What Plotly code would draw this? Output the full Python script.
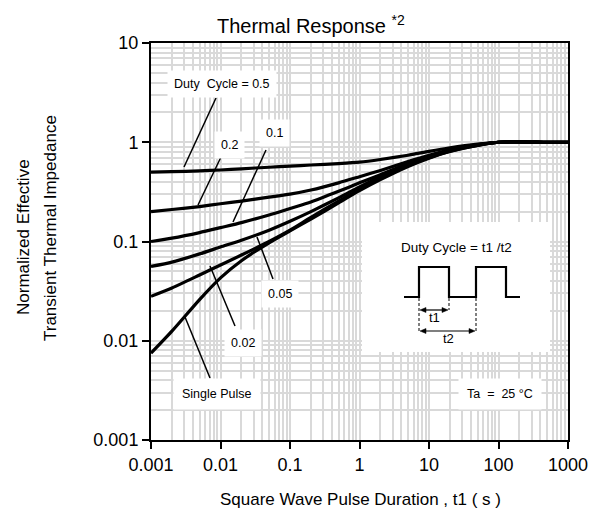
import plotly.graph_objects as go

# ---------------- data ----------------
t1 = [0.001, 0.002, 0.005, 0.01, 0.02, 0.05, 0.1, 0.2, 0.5, 1, 2, 5, 10, 20, 50, 100, 200, 500, 1000]
duty_05 = [0.50, 0.505, 0.515, 0.525, 0.54, 0.56, 0.575, 0.59, 0.61, 0.63, 0.67, 0.74, 0.81, 0.88, 0.96, 1.0, 1.01, 1.0, 1.0]
duty_02 = [0.20, 0.21, 0.225, 0.24, 0.255, 0.28, 0.30, 0.33, 0.39, 0.45, 0.52, 0.64, 0.74, 0.84, 0.95, 1.0, 1.01, 1.0, 1.0]
duty_01 = [0.10, 0.108, 0.123, 0.138, 0.155, 0.185, 0.215, 0.25, 0.32, 0.39, 0.47, 0.61, 0.72, 0.83, 0.94, 1.0, 1.01, 1.0, 1.0]
duty_005 = [0.056, 0.062, 0.075, 0.088, 0.103, 0.13, 0.16, 0.20, 0.275, 0.355, 0.45, 0.59, 0.71, 0.82, 0.94, 1.0, 1.01, 1.0, 1.0]
duty_002 = [0.028, 0.034, 0.046, 0.058, 0.073, 0.10, 0.13, 0.175, 0.255, 0.335, 0.43, 0.58, 0.70, 0.81, 0.93, 1.0, 1.01, 1.0, 1.0]
single = [0.0075, 0.0125, 0.026, 0.043, 0.064, 0.097, 0.128, 0.168, 0.245, 0.325, 0.42, 0.57, 0.69, 0.81, 0.93, 1.0, 1.01, 1.0, 1.0]

series = [("0.5", duty_05), ("0.2", duty_02), ("0.1", duty_01),
          ("0.05", duty_005), ("0.02", duty_002), ("Single Pulse", single)]

x_tickvals = [0.001, 0.01, 0.1, 1, 10, 100, 1000]
x_ticktext = ["0.001", "0.01", "0.1", "1", "10", "100", "1000"]
y_tickvals = [0.001, 0.01, 0.1, 1, 10]
y_ticktext = ["0.001", "0.01", "0.1", "1", "10"]

# ---------------- layout helpers (pixel -> paper) ----------------
W, H = 609, 513
L, R, T, B = 151, 568, 43, 440
def px(x):
    return (x - L) / (R - L)
def py(y):
    return (B - y) / (B - T)

FONT = "Liberation Sans, Arial, sans-serif"

fig = go.Figure()
for name, vals in series:
    fig.add_trace(go.Scatter(x=t1, y=vals, mode="lines", name=name,
                             line=dict(color="black", width=3.2, shape="spline", smoothing=0.6),
                             showlegend=False, hoverinfo="skip"))

shapes = []
annotations = []

def pline(x0, y0, x1, y1, width=1.5, dash=None, layer="above"):
    ln = dict(color="black", width=width)
    if dash:
        ln["dash"] = dash
    shapes.append(dict(type="line", xref="paper", yref="paper",
                       x0=px(x0), y0=py(y0), x1=px(x1), y1=py(y1), line=ln, layer=layer))

# leader lines
leaders = [((216, 98), (184, 167)),
           ((221, 157), (198, 205)),
           ((266, 150), (233, 222)),
           ((273, 279), (257, 237)),
           ((235, 326), (210, 266)),
           ((210, 378), (185, 317))]
for (x0, y0), (x1, y1) in leaders:
    pline(x0, y0, x1, y1)

# inset white box
shapes.append(dict(type="rect", xref="paper", yref="paper",
                   x0=px(362), x1=px(550), y0=py(352), y1=py(222),
                   fillcolor="white", line=dict(width=0), layer="above"))

# waveform
wave = [(404, 297), (419, 297), (419, 267), (449, 267), (449, 297), (476, 297),
        (476, 267), (506, 267), (506, 297), (520, 297)]
path = "M " + " L ".join(f"{px(a)},{py(b)}" for a, b in wave)
shapes.append(dict(type="path", xref="paper", yref="paper", path=path,
                   line=dict(color="black", width=2.2), layer="above"))
# dashed verticals
for xv, yb in [(419, 331), (449, 310), (476, 331)]:
    pline(xv, 298, xv, yb, width=1, dash="3px,2px")

# double-headed arrows t1 / t2
def tri(tipx, tipy, direction):
    bx = tipx - 6 * direction
    pts = [(tipx, tipy), (bx, tipy - 2.5), (bx, tipy + 2.5)]
    p = "M " + " L ".join(f"{px(a)},{py(b)}" for a, b in pts) + " Z"
    shapes.append(dict(type="path", xref="paper", yref="paper", path=p,
                       fillcolor="black", line=dict(color="black", width=0.5), layer="above"))

for x0, x1, yv in [(420, 448, 310), (420, 475, 331)]:
    pline(x0 + 3, yv, x1 - 3, yv, width=1.2)
    tri(x0, yv, -1)
    tri(x1, yv, 1)

def label(text, x, y, size=12.5, bg="white", pad=6):
    annotations.append(dict(xref="paper", yref="paper", x=px(x), y=py(y),
                            text=text, showarrow=False, xanchor="center", yanchor="middle",
                            font=dict(family=FONT, size=size, color="black"),
                            bgcolor=bg, borderpad=pad))

label("Duty  Cycle = 0.5", 222, 84)
label("0.2", 229, 145)
label("0.1", 274, 133)
label("0.05", 280, 294)
label("0.02", 243, 343)
label("Single Pulse", 217, 394, pad=8)
label("Ta  =  25 °C", 500, 394, pad=8)
label("Duty Cycle = t1 /t2", 456, 248, size=13.5, bg="rgba(0,0,0,0)", pad=0)
label("t1", 434, 318, size=13, bg="rgba(0,0,0,0)", pad=0)
label("t2", 448, 338, size=13, bg="rgba(0,0,0,0)", pad=0)

# title
annotations.append(dict(xref="paper", yref="paper", x=px(311), y=py(24),
                        text="Thermal Response <sup>*2</sup>", showarrow=False,
                        xanchor="center", yanchor="middle",
                        font=dict(family=FONT, size=20, color="black")))
# y title (two lines)
annotations.append(dict(xref="paper", yref="paper", x=px(23), y=py(237),
                        text="Normalized Effective", showarrow=False, textangle=-90,
                        xanchor="center", yanchor="middle",
                        font=dict(family=FONT, size=17, color="black")))
annotations.append(dict(xref="paper", yref="paper", x=px(50), y=py(228),
                        text="Transient Thermal Impedance", showarrow=False, textangle=-90,
                        xanchor="center", yanchor="middle",
                        font=dict(family=FONT, size=17, color="black")))
# x title
annotations.append(dict(xref="paper", yref="paper", x=px(360), y=py(499),
                        text="Square Wave Pulse Duration , t1 ( s )", showarrow=False,
                        xanchor="center", yanchor="middle",
                        font=dict(family=FONT, size=17, color="black")))

grid = "#d9d9d9"
axis_common = dict(type="log", showline=True, linecolor="black", linewidth=2, mirror=True,
                   ticks="outside", ticklen=7, tickwidth=1.5, tickcolor="black",
                   showgrid=True, gridcolor=grid, gridwidth=2, zeroline=False,
                   tickfont=dict(family=FONT, size=18, color="black"),
                   minor=dict(dtick="D1", showgrid=True, gridcolor=grid, gridwidth=2, ticks=""))

fig.update_xaxes(range=[-3, 3], tickvals=x_tickvals, ticktext=x_ticktext, **axis_common)
fig.update_yaxes(range=[-3, 1], tickvals=y_tickvals, ticktext=y_ticktext, **axis_common)

fig.update_layout(width=W, height=H, autosize=False,
                  margin=dict(l=L, r=W - R, t=T, b=H - B, pad=0),
                  plot_bgcolor="white", paper_bgcolor="white",
                  font=dict(family=FONT, color="black"),
                  shapes=shapes, annotations=annotations, showlegend=False)

fig.write_html("out.html", config={"displayModeBar": False},
               post_script="document.body.style.margin='0';document.body.style.padding='0';")
